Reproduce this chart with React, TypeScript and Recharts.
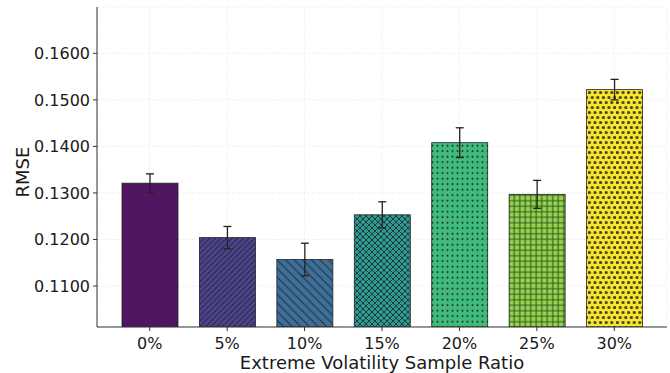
import React from 'react';
import { BarChart, Bar, XAxis, YAxis, CartesianGrid, ErrorBar } from 'recharts';

const categories = ['0%', '5%', '10%', '15%', '20%', '25%', '30%'];
const rmse = [0.1321, 0.1204, 0.1157, 0.1253, 0.1408, 0.1297, 0.1522];
const errors = [0.0020, 0.0024, 0.0035, 0.0028, 0.0032, 0.0030, 0.0022];
const yTicks = [0.11, 0.12, 0.13, 0.14, 0.15, 0.16];

const colors = ['#501660', '#4e4590', '#3d6f98', '#2e9990', '#40bb7e', '#8fd64a', '#f8e52f'];
const patterns = ['none', 'fwd', 'back', 'cross', 'dots', 'grid', 'bigdots'];

const data = categories.map((c, i) => ({ name: c, rmse: rmse[i], err: errors[i] }));

const FONT = '"DejaVu Sans", sans-serif';
const HATCH = '#1a1a1a';

function PatternDef({ id, kind }: { id: string; kind: string }) {
  if (kind === 'fwd') {
    const s = 5.6;
    return (
      <pattern id={id} patternUnits="userSpaceOnUse" width={s} height={s}>
        <path d={`M0,${s} L${s},0 M${-s / 2},${s / 2} L${s / 2},${-s / 2} M${s / 2},${s * 1.5} L${s * 1.5},${s / 2}`} stroke={HATCH} strokeWidth={1.1} strokeOpacity={0.75} />
      </pattern>
    );
  }
  if (kind === 'back') {
    const s = 8.6;
    return (
      <pattern id={id} patternUnits="userSpaceOnUse" width={s} height={s}>
        <path d={`M0,0 L${s},${s} M${-s / 2},${s / 2} L${s / 2},${s * 1.5} M${s / 2},${-s / 2} L${s * 1.5},${s / 2}`} stroke={HATCH} strokeWidth={1.1} strokeOpacity={0.75} />
      </pattern>
    );
  }
  if (kind === 'cross') {
    const s = 6;
    return (
      <pattern id={id} patternUnits="userSpaceOnUse" width={s} height={s}>
        <path d={`M0,0 L${s},${s} M0,${s} L${s},0 M${-s / 2},${s / 2} L${s / 2},${s * 1.5} M${s / 2},${-s / 2} L${s * 1.5},${s / 2} M${-s / 2},${s / 2} L${s / 2},${-s / 2} M${s / 2},${s * 1.5} L${s * 1.5},${s / 2}`} stroke={HATCH} strokeWidth={1} strokeOpacity={0.75} />
      </pattern>
    );
  }
  if (kind === 'dots') {
    return (
      <pattern id={id} patternUnits="userSpaceOnUse" width={5} height={5.5}>
        <circle cx={2.5} cy={2.7} r={1} fill={HATCH} fillOpacity={0.85} />
      </pattern>
    );
  }
  if (kind === 'grid') {
    const s = 5.5;
    return (
      <pattern id={id} patternUnits="userSpaceOnUse" width={s} height={s}>
        <path d={`M${s / 2},0 L${s / 2},${s} M0,${s / 2} L${s},${s / 2}`} stroke={HATCH} strokeWidth={1} strokeOpacity={0.75} />
      </pattern>
    );
  }
  if (kind === 'bigdots') {
    return (
      <pattern id={id} patternUnits="userSpaceOnUse" width={5.6} height={10}>
        <circle cx={1.4} cy={2.5} r={1.6} fill={HATCH} fillOpacity={0.8} />
        <circle cx={4.2} cy={7.5} r={1.6} fill={HATCH} fillOpacity={0.8} />
      </pattern>
    );
  }
  return null;
}

const HatchBar = (props: any) => {
  const { x, y, width, height, index } = props;
  const kind = patterns[index];
  const id = `hatch-${index}`;
  return (
    <g>
      {kind !== 'none' && (
        <defs>
          <PatternDef id={id} kind={kind} />
        </defs>
      )}
      <rect x={x} y={y} width={width} height={height} fill={colors[index]} />
      {kind !== 'none' && <rect x={x} y={y} width={width} height={height} fill={`url(#${id})`} />}
      <rect x={x} y={y} width={width} height={height} fill="none" stroke="#222" strokeWidth={0.8} />
    </g>
  );
};

export default function App() {
  return (
    <div style={{ position: 'absolute', left: 0, top: 0, width: 670, height: 373, background: '#fff' }}>
      <BarChart width={670} height={373} data={data} margin={{ top: 7, right: 3, left: 0, bottom: 0 }}>
        <XAxis
          dataKey="name"
          height={46}
          padding={{ left: 14, right: 14 }}
          axisLine={{ stroke: '#333', strokeWidth: 1 }}
          tickLine={{ stroke: '#333' }}
          tickSize={4}
          tickMargin={7}
          tick={{ fontSize: 16, fill: '#1a1a1a', fontFamily: FONT }}
          label={{
            content: (p: any) => {
              const vb = p.viewBox;
              return (
                <text x={vb.x + vb.width / 2} y={369} textAnchor="middle" fontSize={18} fill="#1a1a1a" fontFamily={FONT}>
                  Extreme Volatility Sample Ratio
                </text>
              );
            },
          }}
        />
        <YAxis
          width={97}
          domain={[0.1012, 0.16995]}
          ticks={yTicks}
          allowDataOverflow
          axisLine={{ stroke: '#333', strokeWidth: 1 }}
          tickLine={{ stroke: '#333' }}
          tickSize={4}
          tickMargin={3}
          tickFormatter={(v: number) => v.toFixed(4)}
          tick={{ fontSize: 16, fill: '#1a1a1a', fontFamily: FONT }}
          label={{
            content: (p: any) => {
              const vb = p.viewBox;
              const cy = vb.y + vb.height / 2 + 5;
              return (
                <text x={22} y={cy} transform={`rotate(-90, 22, ${cy})`} textAnchor="middle" dominantBaseline="central" fontSize={18} fill="#1a1a1a" fontFamily={FONT}>
                  RMSE
                </text>
              );
            },
          }}
        />
        <Bar dataKey="rmse" barSize={56} shape={HatchBar} isAnimationActive={false}>
          <ErrorBar dataKey="err" width={4} stroke="#222" strokeWidth={1.3} isAnimationActive={false} />
        </Bar>
        <CartesianGrid stroke="#d4d4d4" strokeOpacity={0.45} strokeDasharray="3 2" strokeWidth={0.8} />
      </BarChart>
    </div>
  );
}
